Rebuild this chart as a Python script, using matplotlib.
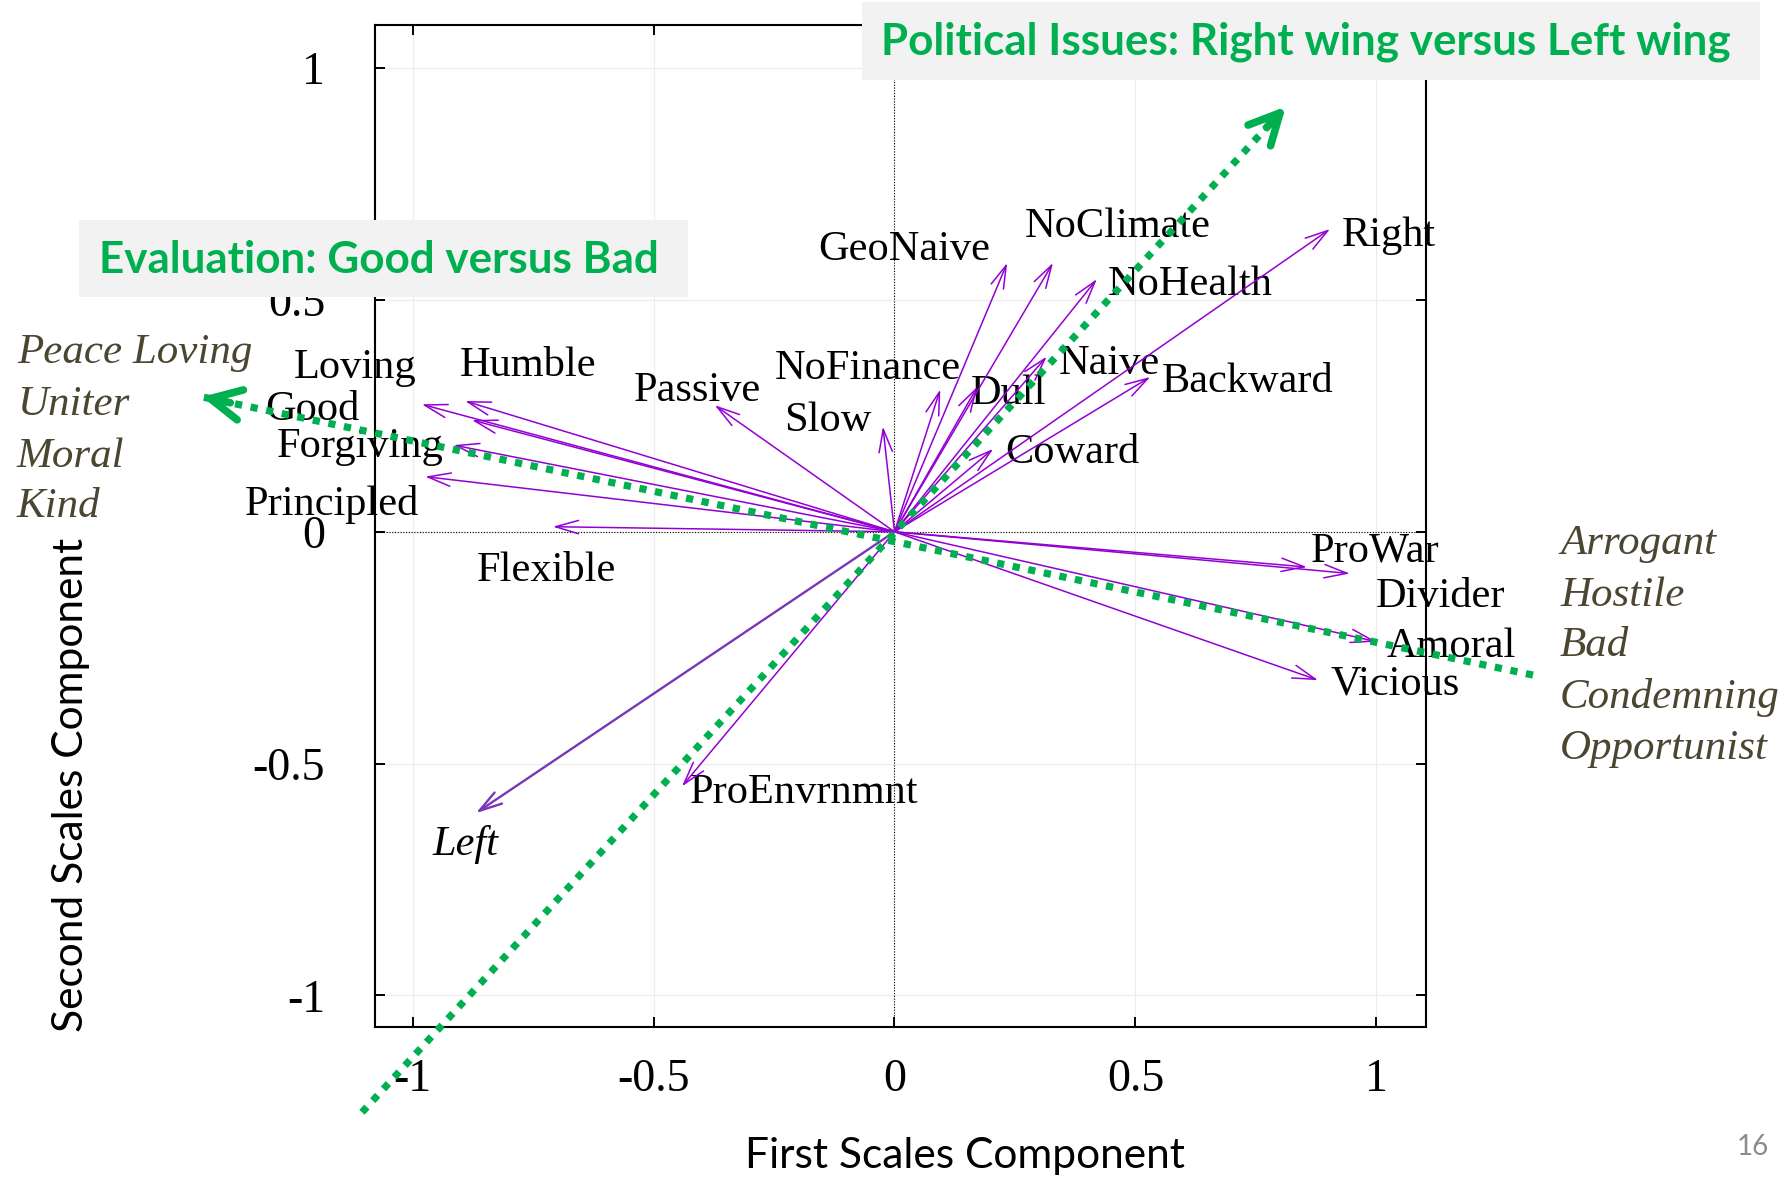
import matplotlib
matplotlib.use('Agg')
import matplotlib.pyplot as plt
from matplotlib.patches import FancyArrowPatch, Rectangle
import numpy as np

W, H, DPI = 1791, 1178, 100

# ---------------- data ----------------
scale_names = ['Loving', 'Humble', 'Good', 'Forgiving', 'Principled', 'Flexible',
               'Passive', 'Slow', 'NoFinance', 'GeoNaive', 'NoClimate', 'NoHealth',
               'Dull', 'Naive', 'Backward', 'Right', 'Coward', 'ProWar', 'Divider',
               'Amoral', 'Vicious', 'ProEnvrnmnt', 'Left']
first_component = [-0.981, -0.891, -0.877, -0.915, -0.974, -0.709,
                   -0.373, -0.024, 0.095, 0.234, 0.329, 0.420,
                   0.172, 0.316, 0.531, 0.904, 0.205, 0.945, 0.856,
                   1.000, 0.879, -0.441, -0.869]
second_component = [0.275, 0.282, 0.241, 0.187, 0.119, 0.011,
                    0.273, 0.227, 0.307, 0.580, 0.580, 0.545,
                    0.313, 0.378, 0.334, 0.653, 0.179, -0.090, -0.076,
                    -0.237, -0.320, -0.549, -0.607]

good_pole_words = ['Peace Loving', 'Uniter', 'Moral', 'Kind']
bad_pole_words = ['Arrogant', 'Hostile', 'Bad', 'Condemning', 'Opportunist']

political_axis_x = [-1.105, 0.812]
political_axis_y = [-1.252, 0.917]
evaluation_axis_x = [1.325, -1.437]
evaluation_axis_y = [-0.309, 0.291]

tick_values = [-1, -0.5, 0, 0.5, 1]
tick_labels = ['-1', '-0.5', '0', '0.5', '1']

political_title = 'Political Issues: Right wing versus Left wing'
evaluation_title = 'Evaluation: Good versus Bad'
x_title = 'First Scales Component'
y_title = 'Second Scales Component'
page_number = '16'

# ---------------- layout (label anchor positions, data units) ----------------
label_pos = {
    'GeoNaive': (-0.158, 0.586), 'NoClimate': (0.271, 0.635), 'Right': (0.928, 0.617),
    'NoHealth': (0.443, 0.511), 'Loving': (-1.246, 0.332), 'Humble': (-0.903, 0.336),
    'Passive': (-0.542, 0.283), 'NoFinance': (-0.248, 0.330), 'Slow': (-0.230, 0.217),
    'Dull': (0.158, 0.276), 'Naive': (0.341, 0.340), 'Backward': (0.555, 0.302),
    'Good': (-1.306, 0.241), 'Forgiving': (-1.281, 0.161), 'Coward': (0.229, 0.148),
    'Principled': (-1.349, 0.036), 'Flexible': (-0.867, -0.106), 'ProWar': (0.864, -0.065),
    'Divider': (0.998, -0.163), 'Amoral': (1.021, -0.270), 'Vicious': (0.904, -0.350),
    'ProEnvrnmnt': (-0.424, -0.585), 'Left': (-0.958, -0.696),
}

def fx(px):
    return px / W

def fy(py):
    return 1 - py / H

SERIF = 'Liberation Serif'
SANS = 'Lato'
GREEN = '#00b050'
PURPLE = '#9400d3'
OLIVE = '#4a4631'

fig = plt.figure(figsize=(W / DPI, H / DPI), dpi=DPI)
fig.patch.set_facecolor('white')
ax = fig.add_axes([fx(375), fy(1027), fx(1426) - fx(375), fy(25) - fy(1027)])
ax.set_xlim(-1.078, 1.103)
ax.set_ylim(-1.068, 1.093)

ax.set_xticks(tick_values)
ax.set_xticklabels(tick_labels, family=SERIF, fontsize=33)
ax.set_yticks(tick_values)
ax.set_yticklabels(tick_labels, family=SERIF, fontsize=33)
ax.tick_params(axis='both', direction='in', length=7, width=1.4,
               top=True, right=True, labeltop=False, labelright=False)
ax.tick_params(axis='x', pad=23)
ax.tick_params(axis='y', pad=36)
for sp in ax.spines.values():
    sp.set_linewidth(1.5)
ax.grid(True, color='#ececec', lw=0.8, zorder=0)
ax.set_axisbelow(True)
ax.axhline(0, color='black', lw=0.8, ls=(0, (1, 1.5)), zorder=1)
ax.axvline(0, color='black', lw=0.8, ls=(0, (1, 1.5)), zorder=1)

# labels
for name in scale_names:
    lx, ly = label_pos[name]
    style = 'italic' if name == 'Left' else 'normal'
    ax.text(lx, ly, name, family=SERIF, fontsize=30.5, style=style,
            ha='left', va='baseline', color='black', zorder=2, clip_on=False)

# loading arrows
for name, x, y in zip(scale_names, first_component, second_component):
    if name == 'Left':
        col, lw = '#7b35b8', 1.7
    else:
        col, lw = PURPLE, 1.1
    arr = FancyArrowPatch((0, 0), (x, y),
                          arrowstyle='->,head_length=1.1,head_width=0.32',
                          mutation_scale=15, color=col, lw=lw,
                          shrinkA=0, shrinkB=0, zorder=3)
    ax.add_patch(arr)

# green interpretive axes
def green_axis(xs, ys):
    ax.plot(xs, ys, color=GREEN, lw=5.2, ls=(0, (1, 1.2)),
            dash_capstyle='butt', clip_on=False, zorder=5)
    tip = np.array([xs[1], ys[1]])
    tail = np.array([xs[0], ys[0]])
    d = (tip - tail) / np.linalg.norm(tip - tail)
    head = FancyArrowPatch(tuple(tip - 0.06 * d), tuple(tip),
                           arrowstyle='->,head_length=1.1,head_width=0.55',
                           mutation_scale=20, color=GREEN, lw=5.5,
                           shrinkA=0, shrinkB=0, zorder=6, clip_on=False,
                           capstyle='round', joinstyle='round')
    ax.add_patch(head)

green_axis(political_axis_x, political_axis_y)
green_axis(evaluation_axis_x, evaluation_axis_y)

# pole words
good_baselines = [363, 415, 466.7, 516.7]
for w, b in zip(good_pole_words, good_baselines):
    fig.text(fx(17), fy(b), w, family=SERIF, style='italic', fontsize=31,
             color=OLIVE, ha='left', va='baseline')
bad_baselines = [554, 606, 656, 708, 759]
for w, b in zip(bad_pole_words, bad_baselines):
    fig.text(fx(1560), fy(b), w, family=SERIF, style='italic', fontsize=31,
             color=OLIVE, ha='left', va='baseline')

# title boxes
fig.patches.append(Rectangle((fx(862), fy(80)), fx(1760) - fx(862), fy(2) - fy(80),
                             transform=fig.transFigure, facecolor='#f2f2f2',
                             edgecolor='none', zorder=2))
fig.text(fx(881), fy(55), political_title, family=SANS, fontweight='bold',
         fontsize=31.7, color=GREEN, ha='left', va='baseline', zorder=3)
fig.patches.append(Rectangle((fx(79), fy(297)), fx(688) - fx(79), fy(220) - fy(297),
                             transform=fig.transFigure, facecolor='#f2f2f2',
                             edgecolor='none', zorder=2))
fig.text(fx(99), fy(273), evaluation_title, family=SANS, fontweight='bold',
         fontsize=31.7, color=GREEN, ha='left', va='baseline', zorder=3)

# axis titles
fig.text(fx(965), fy(1168), x_title, family=SANS, fontsize=30.6,
         ha='center', va='baseline', color='black')
fig.text(fx(71.5), fy(785), y_title, family=SANS, fontsize=30.6, rotation=90,
         ha='center', va='center', color='black')

fig.text(fx(1753), fy(1147), page_number, family=SANS, fontsize=20,
         color='#8c8c8c', ha='center', va='center')

fig.savefig('out.png', dpi=DPI)
